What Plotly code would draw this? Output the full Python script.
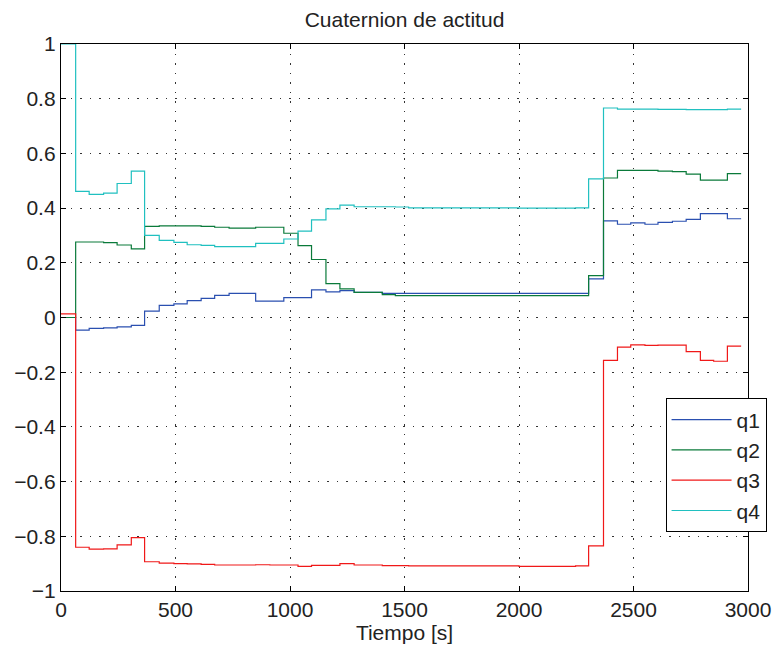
import plotly.graph_objects as go

t = [0, 64, 123, 186, 245, 307, 365, 429, 493, 551, 612, 671, 734, 790, 850, 912,
     973, 1035, 1094, 1157, 1218, 1280, 1403, 1460, 1518, 1700, 2000, 2247, 2304,
     2369, 2430, 2488, 2550, 2607, 2670, 2730, 2792, 2850, 2910, 2970]

q1 = [0, -0.046, -0.040, -0.038, -0.034, -0.029, 0.023, 0.044, 0.050, 0.062, 0.070,
      0.081, 0.088, 0.088, 0.060, 0.060, 0.073, 0.073, 0.101, 0.094, 0.098, 0.092,
      0.088, 0.088, 0.088, 0.088, 0.088, 0.088, 0.141, 0.353, 0.341, 0.346, 0.341,
      0.348, 0.352, 0.359, 0.380, 0.380, 0.361, 0.361]

q2 = [0, 0.276, 0.276, 0.274, 0.265, 0.251, 0.333, 0.335, 0.335, 0.335, 0.333,
      0.330, 0.327, 0.327, 0.330, 0.330, 0.308, 0.263, 0.212, 0.124, 0.105, 0.092,
      0.084, 0.080, 0.080, 0.080, 0.080, 0.080, 0.153, 0.510, 0.538, 0.538, 0.538,
      0.535, 0.533, 0.524, 0.502, 0.502, 0.526, 0.526]

q3 = [0.013, -0.840, -0.847, -0.846, -0.831, -0.805, -0.893, -0.898, -0.900, -0.901,
      -0.903, -0.905, -0.905, -0.905, -0.904, -0.905, -0.905, -0.910, -0.906, -0.906,
      -0.900, -0.905, -0.907, -0.907, -0.908, -0.908, -0.910, -0.908, -0.835, -0.157,
      -0.108, -0.100, -0.102, -0.101, -0.101, -0.125, -0.157, -0.160, -0.105, -0.105]

q4 = [1.0, 0.461, 0.450, 0.455, 0.490, 0.535, 0.300, 0.282, 0.275, 0.266, 0.264,
      0.259, 0.259, 0.259, 0.271, 0.271, 0.287, 0.316, 0.357, 0.397, 0.411, 0.405,
      0.405, 0.404, 0.401, 0.401, 0.400, 0.401, 0.507, 0.766, 0.762, 0.762, 0.762,
      0.761, 0.761, 0.760, 0.760, 0.760, 0.762, 0.762]

names = ["q1", "q2", "q3", "q4"]
colors = ["#2a4fb0", "#0a7a3a", "#f01818", "#20c0c0"]
series = [q1, q2, q3, q4]

xticks = [0, 500, 1000, 1500, 2000, 2500, 3000]
yticks = [1, 0.8, 0.6, 0.4, 0.2, 0, -0.2, -0.4, -0.6, -0.8, -1]
ytext = ["1", "0.8", "0.6", "0.4", "0.2", "0", "\u22120.2", "\u22120.4", "\u22120.6", "\u22120.8", "\u22121"]

fig = go.Figure()
for n, c, s in zip(names, colors, series):
    fig.add_trace(go.Scatter(x=t, y=s, name=n, mode="lines", line_shape="hv",
                             line=dict(color=c, width=1.2)))

font = "Liberation Sans, Arial, sans-serif"
fs = 21
axis_common = dict(showline=True, linecolor="black", linewidth=1.3, mirror="allticks",
                   ticks="inside", ticklen=5, tickcolor="black", showgrid=True,
                   gridcolor="rgba(0,0,0,0.8)", griddash="1.5px,8px", gridwidth=1.2,
                   zeroline=False, tickfont=dict(family=font, size=fs, color="#222"))

fig.update_layout(
    width=783, height=652,
    margin=dict(l=61, r=29, t=44, b=60),
    paper_bgcolor="white", plot_bgcolor="white",
    title=dict(text="Cuaternion de actitud", x=0.5, xref="paper", xanchor="center",
               y=1 - 20 / 652, yanchor="middle",
               font=dict(family=font, size=fs, color="#222")),
    xaxis=dict(range=[0, 3000], tickvals=xticks, ticktext=[str(v) for v in xticks],
               title=dict(text="Tiempo [s]", font=dict(family=font, size=fs, color="#222"),
                          standoff=4),
               **axis_common),
    yaxis=dict(range=[-1, 1], tickvals=yticks, ticktext=ytext, **axis_common),
    legend=dict(x=0.88, y=0.352, xanchor="left", yanchor="top", bgcolor="white",
                bordercolor="black", borderwidth=1, itemwidth=60,
                font=dict(family=font, size=fs, color="#222"),
                tracegroupgap=0),
    showlegend=True,
)

fig.write_html("out.html")
